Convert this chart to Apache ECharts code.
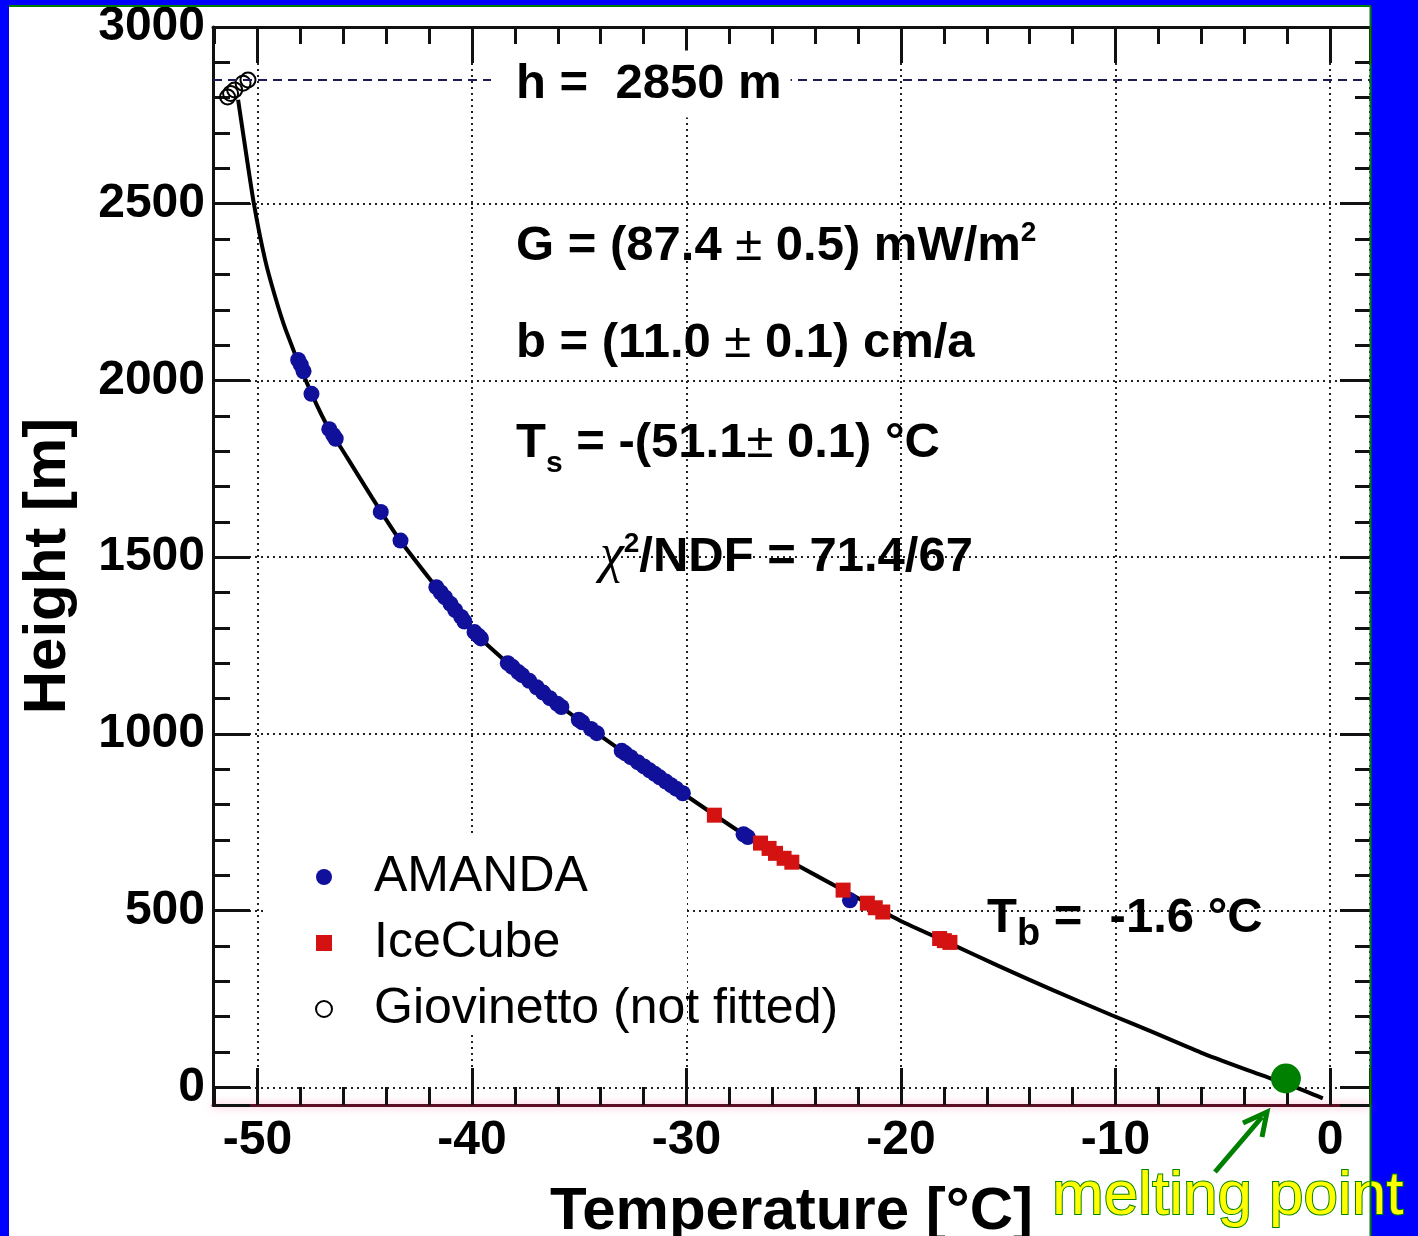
<!DOCTYPE html>
<html>
<head>
<meta charset="utf-8">
<script src="https://cdn.jsdelivr.net/npm/echarts@6/dist/echarts.min.js"></script>
<style>
  html, body { margin: 0; padding: 0; background: #0000ff; }
  #chart { width: 1418px; height: 1236px; }
</style>
</head>
<body>
<div id="chart"></div>
<script>
// Fitted temperature profile (temperature in degC, height above bedrock in m)
const fitTemperature = [-50.90, -50.62, -50.17, -49.64, -49.17, -48.68, -47.75, -46.81, -45.83, -44.67,
  -43.46, -41.82, -40.14, -38.33, -36.37, -34.18, -32.27, -30.03, -27.14, -25.09,
  -22.67, -20.06, -17.75, -15.51, -12.92, -10.17, -8.26, -5.93, -3.55, -1.60, -0.34];
const fitHeight = [2794, 2680, 2502, 2341, 2236, 2143, 2001, 1879, 1783, 1670,
  1557, 1427, 1302, 1200, 1101, 1002, 920, 826, 708, 637,
  557, 472, 408, 345, 275, 204, 156, 96, 42, 0, -31];

// AMANDA measurements
const amandaTemperature = [-48.10, -47.98, -47.85, -47.48, -46.65, -46.47, -46.35, -44.25, -43.33,
  -41.66, -41.45, -41.25, -41.00, -40.78, -40.50, -40.35, -39.88, -39.70, -39.58,
  -38.33, -38.12, -37.84, -37.66, -37.33, -36.98, -36.68, -36.37, -36.02, -35.83,
  -35.02, -34.86, -34.45, -34.18, -33.02, -32.85, -32.60, -32.27, -31.98, -31.72,
  -31.48, -31.25, -30.96, -30.72, -30.48, -30.17, -27.34, -27.14, -22.38];
const amandaHeight = [2058, 2045, 2026, 1962, 1862, 1846, 1835, 1628, 1547,
  1415, 1400, 1386, 1368, 1350, 1331, 1318, 1288, 1278, 1270,
  1200, 1190, 1175, 1166, 1150, 1132, 1117, 1101, 1085, 1076,
  1040, 1033, 1014, 1002, 952, 945, 934, 920, 908, 897,
  887, 877, 865, 855, 845, 832, 716, 708, 529];

// IceCube measurements
const icecubeTemperature = [-28.70, -26.55, -26.15, -25.85, -25.45, -25.09, -22.70, -21.57, -21.20,
  -20.85, -18.20, -17.98, -17.72];
const icecubeHeight = [770, 691, 676, 662, 648, 637, 558, 521, 508, 496, 421, 415, 410];

// Giovinetto near-surface values (not used in the fit)
const giovinettoTemperature = [-51.39, -51.25, -51.06, -50.67, -50.44];
const giovinettoHeight = [2802, 2812, 2822, 2841, 2850];

// Ice thickness and melting point marker
const surfaceHeight = 2850;
const meltingPoint = [-2.06, 25];

const seriesNames = ['AMANDA', 'IceCube', 'Giovinetto (not fitted)'];

const pairs = (xs, ys) => xs.map((x, i) => [x, ys[i]]);

const FONT = '"Liberation Sans", Arial, Helvetica, sans-serif';
const SERIF = '"Liberation Serif", "DejaVu Serif", serif';

const isMultiple = (v, step) => Math.abs(v - Math.round(v / step) * step) < 1e-6;

const dotted = { type: [2, 4], color: '#222', width: 2 };
const tickStyle = { color: '#111', width: 3 };

const option = {
  animation: false,
  backgroundColor: '#0000ff',
  grid: { left: 213, top: 27, right: 48, bottom: 131, containLabel: false, outerBoundsMode: 'none' },
  xAxis: [
    {
      type: 'value', position: 'bottom', min: -52.07, max: 1.86, splitNumber: 5,
      axisLine: { show: true, onZero: false, lineStyle: { color: '#5a0f22', width: 3,
        shadowColor: 'rgba(255,110,160,0.6)', shadowBlur: 8 } },
      axisTick: { show: true, inside: true, length: 37, lineStyle: tickStyle },
      minorTick: { show: true, splitNumber: 5, length: 18, lineStyle: tickStyle },
      splitLine: { show: true, lineStyle: dotted },
      axisLabel: {
        show: true, margin: 12, color: '#000', fontSize: 48, fontWeight: 'bold', fontFamily: FONT,
        formatter: v => (isMultiple(v, 10) ? String(Math.round(v)) : '')
      },
      name: 'Temperature [°C]', nameLocation: 'middle', nameGap: 77,
      nameTextStyle: { color: '#000', fontSize: 60, fontWeight: 'bold', fontFamily: FONT }
    },
    {
      type: 'value', position: 'top', min: -52.07, max: 1.86, splitNumber: 5,
      axisLine: { show: true, onZero: false, lineStyle: { color: '#111', width: 3 } },
      axisTick: { show: true, inside: true, length: 36, lineStyle: tickStyle },
      minorTick: { show: true, splitNumber: 5, length: 17, lineStyle: tickStyle },
      splitLine: { show: false },
      axisLabel: { show: false }
    }
  ],
  yAxis: [
    {
      type: 'value', position: 'left', min: -50, max: 3000, splitNumber: 5,
      axisLine: { show: true, onZero: false, lineStyle: { color: '#111', width: 3 } },
      axisTick: { show: true, inside: true, length: 37, lineStyle: tickStyle },
      minorTick: { show: true, splitNumber: 5, length: 17, lineStyle: tickStyle },
      splitLine: { show: true, lineStyle: dotted },
      axisLabel: {
        show: true, margin: 8, color: '#000', fontSize: 48, fontWeight: 'bold', fontFamily: FONT,
        formatter: v => (isMultiple(v, 500) ? String(Math.round(v)) : '')
      },
      name: 'Height [m]', nameLocation: 'middle', nameRotate: 90, nameGap: 135,
      nameTextStyle: { color: '#000', fontSize: 60, fontWeight: 'bold', fontFamily: FONT }
    },
    {
      type: 'value', position: 'right', min: -50, max: 3000, splitNumber: 5,
      axisLine: { show: false, onZero: false },
      axisTick: { show: true, inside: true, length: 30, lineStyle: tickStyle },
      minorTick: { show: true, splitNumber: 5, length: 15, lineStyle: tickStyle },
      splitLine: { show: false },
      axisLabel: { show: false }
    }
  ],
  legend: {
    data: seriesNames,
    orient: 'vertical',
    left: 315, top: 852, padding: 0,
    itemWidth: 16, itemHeight: 16, itemGap: 16,
    selectedMode: false,
    textStyle: { color: '#000', fontSize: 50, fontFamily: FONT, lineHeight: 50, padding: [0, 0, 0, 37] }
  },
  series: [
    {
      name: 'surface', type: 'line', z: 0, silent: true, showSymbol: false,
      data: [],
      markLine: {
        silent: true, symbol: 'none', label: { show: false },
        lineStyle: { type: [9, 6], color: '#1c1c55', width: 2 },
        data: [{ yAxis: surfaceHeight }]
      }
    },
    {
      name: 'fit', type: 'line', z: 3, smooth: 0.2, showSymbol: false, silent: true,
      lineStyle: { color: '#000', width: 4 },
      data: pairs(fitTemperature, fitHeight)
    },
    {
      name: seriesNames[0], type: 'scatter', z: 4, symbol: 'circle', symbolSize: 16,
      itemStyle: { color: '#10109a', opacity: 1 },
      data: pairs(amandaTemperature, amandaHeight)
    },
    {
      name: seriesNames[1], type: 'scatter', z: 5, symbol: 'rect', symbolSize: 15,
      itemStyle: { color: '#d41212', opacity: 1 },
      data: pairs(icecubeTemperature, icecubeHeight)
    },
    {
      name: seriesNames[2], type: 'scatter', z: 4, symbol: 'circle', symbolSize: 15,
      itemStyle: { color: 'rgba(255,255,255,0)', borderColor: '#000', borderWidth: 2, opacity: 1 },
      data: pairs(giovinettoTemperature, giovinettoHeight)
    },
    {
      name: 'melting point', type: 'scatter', z: 6, symbol: 'circle', symbolSize: 30,
      itemStyle: { color: '#008000', opacity: 1 },
      data: [meltingPoint]
    }
  ],
  graphic: [
    // white slide panel with green edge
    { type: 'rect', z: -10, silent: true, shape: { x: 9, y: 6, width: 1361, height: 1240 }, style: { fill: '#ffffff' } },
    { type: 'line', z: 20, silent: true, shape: { x1: 9, y1: 6, x2: 1371, y2: 6 }, style: { stroke: '#008000', lineWidth: 2 } },
    { type: 'line', z: 20, silent: true, shape: { x1: 1370.5, y1: 6, x2: 1370.5, y2: 1236 }, style: { stroke: '#008000', lineWidth: 2 } },
    // legend box
    { type: 'rect', z: 1, silent: true, shape: { x: 265, y: 833, width: 422, height: 200 }, style: { fill: '#ffffff' } },
    // fit results
    {
      type: 'text', z: 10, silent: true, x: 491, y: 84,
      style: {
        text: 'h =  2850 m', fill: '#000', fontSize: 49, fontWeight: 'bold', fontFamily: FONT,
        verticalAlign: 'middle', backgroundColor: '#ffffff', padding: [9, 9, 9, 25]
      }
    },
    {
      type: 'text', z: 10, silent: true, x: 516, y: 246,
      style: {
        text: '{a|G = (87.4 }{p|±}{a| 0.5) mW/m}{s|2}', verticalAlign: 'middle', fill: '#000',
        rich: {
          a: { fill: '#000', fontSize: 49, fontWeight: 'bold', fontFamily: FONT, lineHeight: 54 },
          p: { fill: '#000', fontSize: 49, fontWeight: 'normal', fontFamily: FONT, lineHeight: 54 },
          s: { fill: '#000', fontSize: 28, fontWeight: 'bold', fontFamily: FONT, lineHeight: 28, verticalAlign: 'top' }
        }
      }
    },
    {
      type: 'text', z: 10, silent: true, x: 516, y: 343,
      style: {
        text: '{a|b = (11.0 }{p|±}{a| 0.1) cm/a}', verticalAlign: 'middle', fill: '#000',
        rich: {
          a: { fill: '#000', fontSize: 49, fontWeight: 'bold', fontFamily: FONT, lineHeight: 54 },
          p: { fill: '#000', fontSize: 49, fontWeight: 'normal', fontFamily: FONT, lineHeight: 54 }
        }
      }
    },
    {
      type: 'text', z: 10, silent: true, x: 516, y: 443,
      style: {
        text: '{a|T}{b|s}{a| = -(51.1}{p|±}{a| 0.1) °C}', verticalAlign: 'middle', fill: '#000',
        rich: {
          a: { fill: '#000', fontSize: 49, fontWeight: 'bold', fontFamily: FONT, lineHeight: 72 },
          p: { fill: '#000', fontSize: 49, fontWeight: 'normal', fontFamily: FONT, lineHeight: 72 },
          b: { fill: '#000', fontSize: 30, fontWeight: 'bold', fontFamily: FONT, lineHeight: 30, verticalAlign: 'bottom' }
        }
      }
    },
    {
      type: 'text', z: 10, silent: true, x: 600, y: 557,
      style: {
        text: '{c|χ}{s|2}{a|/NDF = 71.4/67}', verticalAlign: 'middle', fill: '#000',
        rich: {
          c: { fill: '#000', fontSize: 54, fontStyle: 'italic', fontFamily: SERIF, lineHeight: 54 },
          a: { fill: '#000', fontSize: 49, fontWeight: 'bold', fontFamily: FONT, lineHeight: 54 },
          s: { fill: '#000', fontSize: 28, fontWeight: 'bold', fontFamily: FONT, lineHeight: 28, verticalAlign: 'top' }
        }
      }
    },
    {
      type: 'text', z: 10, silent: true, x: 987, y: 918,
      style: {
        text: '{a|T}{b|b}{a| =  -1.6 °C}', verticalAlign: 'middle', fill: '#000',
        rich: {
          a: { fill: '#000', fontSize: 49, fontWeight: 'bold', fontFamily: FONT, lineHeight: 72 },
          b: { fill: '#000', fontSize: 38, fontWeight: 'bold', fontFamily: FONT, lineHeight: 38, verticalAlign: 'bottom' }
        }
      }
    },
    // arrow towards the melting point
    { type: 'line', z: 10, silent: true, shape: { x1: 1215, y1: 1172, x2: 1262, y2: 1117 }, style: { stroke: '#008000', lineWidth: 5 } },
    { type: 'polyline', z: 10, silent: true, shape: { points: [[1243, 1123], [1267, 1112], [1262, 1137]] },
      style: { stroke: '#008000', lineWidth: 5, fill: null, lineJoin: 'miter' } },
    {
      type: 'text', z: 10, silent: true, x: 1052, y: 1197,
      style: {
        text: 'melting point', fill: '#ffff00', stroke: '#008000', lineWidth: 2,
        fontSize: 62, fontFamily: FONT, verticalAlign: 'middle'
      }
    }
  ]
};

const chart = echarts.init(document.getElementById('chart'));
chart.setOption(option);
</script>
</body>
</html>
